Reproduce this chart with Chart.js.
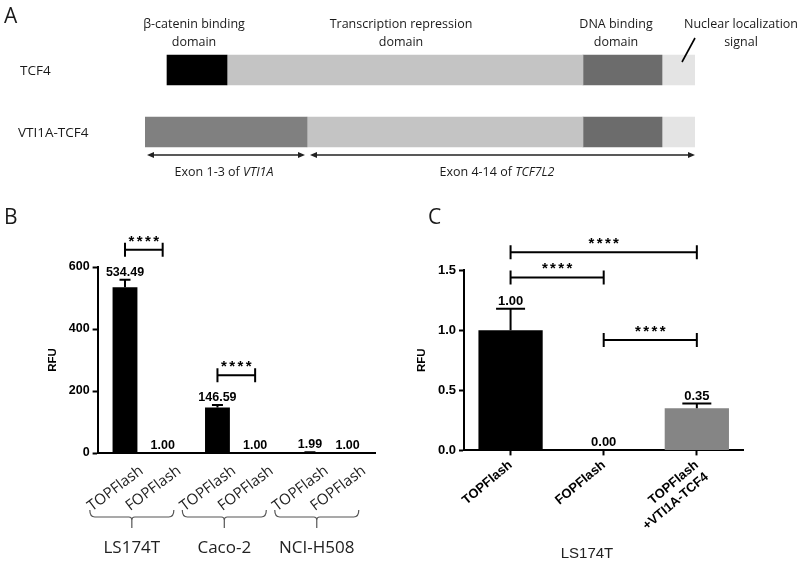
<!DOCTYPE html>
<html>
<head>
<meta charset="utf-8">
<script src="https://cdn.jsdelivr.net/npm/chart.js@4.4.1/dist/chart.umd.min.js"></script>
<style>
  html, body { margin: 0; padding: 0; background: #fff; }
  #fig { position: relative; width: 800px; height: 563px; overflow: hidden; font-family: 'Open Sans', sans-serif; color: #1a1a1a; }
  #fig canvas { position: absolute; }
  .panel { position: absolute; font-size: 21px; line-height: 24px; }
  .lbl { position: absolute; white-space: nowrap; font-size: 12.5px; line-height: 18px; text-align: center; transform: translateX(-50%); }
  .row { position: absolute; white-space: nowrap; font-size: 13.5px; line-height: 18px; }
  .lbl i { font-style: italic; }
</style>
</head>
<body>
<div id="fig">
  <canvas id="chartA" width="800" height="190" style="left:0;top:0"></canvas>
  <canvas id="chartB" width="400" height="383" style="left:0;top:180px"></canvas>
  <canvas id="chartC" width="400" height="383" style="left:400px;top:180px"></canvas>

  <div class="panel" style="left:4px;top:3px">A</div>
  <div class="panel" style="left:4px;top:204px">B</div>
  <div class="panel" style="left:428px;top:204px">C</div>

  <div class="lbl" style="left:194px;top:15px">β-catenin binding<br>domain</div>
  <div class="lbl" style="left:401px;top:15px">Transcription repression<br>domain</div>
  <div class="lbl" style="left:616px;top:15px">DNA binding<br>domain</div>
  <div class="lbl" style="left:741px;top:15px">Nuclear localization<br>signal</div>

  <div class="row" style="left:20px;top:61px">TCF4</div>
  <div class="row" style="left:18px;top:123px">VTI1A-TCF4</div>

  <div class="lbl" style="left:224px;top:163px">Exon 1-3 of <i>VTI1A</i></div>
  <div class="lbl" style="left:497px;top:163px">Exon 4-14 of <i>TCF7L2</i></div>

  <div style="position:absolute;left:587px;top:544px;transform:translateX(-50%);font-family:'Liberation Sans',Arial,sans-serif;font-size:15px;line-height:18px;color:#222">LS174T</div>
</div>

<script>
// panel A: domain boundaries along the protein (same units for both rows)
const aRows = ['TCF4', 'VTI1A-TCF4'];
const tcf4Bounds = [22, 82, 438, 517, 550];
const fusionBounds = [0, 162, 438, 517, 550];
const tcf4Colors = ['#000000', '#c4c4c4', '#6c6c6c', '#e4e4e4'];
const fusionColors = ['#808080', '#c4c4c4', '#6c6c6c', '#e4e4e4'];
const exonSpans = [[2, 160], [165, 550]];

// panel B
const bGroups = ['LS174T', 'Caco-2', 'NCI-H508'];
const bSeries = ['TOPFlash', 'FOPFlash'];
const bTop = [534.49, 146.59, 1.99];
const bFop = [1.00, 1.00, 1.00];
const bTopErr = [24, 8, 0.5];
const bFopErr = [0, 0, 0];
const bTicks = [0, 200, 400, 600];
const bBrackets = [[0, 656], [1, 251]]; // group, RFU level

// panel C
const cLabels = [['TOPFlash'], ['FOPFlash'], ['TOPFlash', '+VTI1A-TCF4']];
const cValues = [1.00, 0.00, 0.35];
const cErr = [0.18, 0, 0.04];
const cColors = ['#000000', '#000000', '#858585'];
const cTicks = [0, 0.5, 1.0, 1.5];
const cBrackets = [[0, 2, 1.65], [0, 1, 1.44], [1, 2, 0.92]]; // from, to, RFU level

Chart.defaults.font.family = "'Liberation Sans', Arial, sans-serif";
Chart.defaults.animation = false;

const axisFont = size => ({ family: "'Liberation Sans', Arial, sans-serif", weight: 'bold', size: size });

function drawStars(ctx, cx, cy) {
    ctx.save();
    ctx.fillStyle = '#000';
    ctx.font = "bold 15px 'Liberation Sans', Arial";
    ctx.textAlign = 'center';
    ctx.textBaseline = 'alphabetic';
    for (let k = 0; k < 4; k++) {
        ctx.fillText('*', cx + (k - 1.5) * 8.2, cy + 9);
    }
    ctx.restore();
}

function drawBracket(ctx, x1, x2, y) {
    ctx.save();
    ctx.strokeStyle = '#000';
    ctx.lineWidth = 2;
    ctx.beginPath();
    ctx.moveTo(x1, y); ctx.lineTo(x2, y);
    ctx.moveTo(x1, y - 7); ctx.lineTo(x1, y + 7);
    ctx.moveTo(x2, y - 7); ctx.lineTo(x2, y + 7);
    ctx.stroke();
    ctx.restore();
    drawStars(ctx, (x1 + x2) / 2, y - 13);
}

// error bar (upper only) + value label above it
function drawErrAndValue(ctx, yScale, x, value, err, cap, fontSize) {
    const yv = yScale.getPixelForValue(value);
    const ye = yScale.getPixelForValue(value + err);
    if (err > 0) {
        ctx.save();
        ctx.strokeStyle = '#000';
        ctx.lineWidth = 2;
        ctx.beginPath();
        ctx.moveTo(x, yv); ctx.lineTo(x, ye);
        ctx.moveTo(x - cap / 2, ye); ctx.lineTo(x + cap / 2, ye);
        ctx.stroke();
        ctx.restore();
    }
    ctx.save();
    ctx.fillStyle = '#000';
    ctx.font = "bold " + fontSize + "px 'Liberation Sans', Arial";
    ctx.textAlign = 'center';
    ctx.textBaseline = 'alphabetic';
    ctx.fillText(value.toFixed(2), x, Math.min(yv, ye) - 4);
    ctx.restore();
}

// ---------- panel A ----------
const aExtras = {
    id: 'aExtras',
    afterDatasetsDraw(chart) {
        const ctx = chart.ctx, x = chart.scales.x, area = chart.chartArea;
        const y = area.bottom - 8;
        ctx.save();
        ctx.strokeStyle = '#222';
        ctx.fillStyle = '#222';
        ctx.lineWidth = 1.3;
        exonSpans.forEach(([s, e]) => {
            const x1 = x.getPixelForValue(s), x2 = x.getPixelForValue(e);
            ctx.beginPath(); ctx.moveTo(x1 + 4, y); ctx.lineTo(x2 - 4, y); ctx.stroke();
            ctx.beginPath(); ctx.moveTo(x1, y); ctx.lineTo(x1 + 7, y - 3); ctx.lineTo(x1 + 7, y + 3); ctx.closePath(); ctx.fill();
            ctx.beginPath(); ctx.moveTo(x2, y); ctx.lineTo(x2 - 7, y - 3); ctx.lineTo(x2 - 7, y + 3); ctx.closePath(); ctx.fill();
        });
        // leader to the nuclear localization signal
        const last = tcf4Bounds[tcf4Bounds.length - 1];
        ctx.strokeStyle = '#000';
        ctx.lineWidth = 1.6;
        ctx.beginPath();
        ctx.moveTo(x.getPixelForValue(last), area.top - 1);
        ctx.lineTo(x.getPixelForValue(last - 13), area.top + 23);
        ctx.stroke();
        ctx.restore();
    }
};

new Chart(document.getElementById('chartA'), {
    type: 'bar',
    data: {
        labels: aRows,
        datasets: tcf4Colors.map((c, i) => ({
            data: [[tcf4Bounds[i], tcf4Bounds[i + 1]], [fusionBounds[i], fusionBounds[i + 1]]],
            backgroundColor: [tcf4Colors[i], fusionColors[i]],
            barThickness: 30,
            grouped: false
        }))
    },
    options: {
        indexAxis: 'y',
        responsive: false,
        events: [],
        layout: { padding: { left: 145, right: 105, top: 39, bottom: 27 } },
        plugins: { legend: { display: false }, tooltip: { enabled: false } },
        scales: {
            x: { type: 'linear', min: 0, max: 550, display: false },
            y: { display: false }
        }
    },
    plugins: [aExtras]
});

// ---------- panel B ----------
const bExtras = {
    id: 'bExtras',
    afterDatasetsDraw(chart) {
        const ctx = chart.ctx, yS = chart.scales.y, area = chart.chartArea;
        const metas = [chart.getDatasetMeta(0), chart.getDatasetMeta(1)];
        const errs = [bTopErr, bFopErr];
        const vals = [bTop, bFop];
        metas.forEach((m, di) => {
            m.data.forEach((bar, j) => {
                drawErrAndValue(ctx, yS, bar.x, vals[di][j], errs[di][j], 11, 12.5);
                // rotated bar label
                ctx.save();
                ctx.translate(bar.x + 12, area.bottom + 10);
                ctx.rotate(-37 * Math.PI / 180);
                ctx.font = "15px 'Open Sans'";
                ctx.fillStyle = '#222';
                ctx.textAlign = 'right';
                ctx.textBaseline = 'top';
                ctx.fillText(bSeries[di], 0, 0);
                ctx.restore();
            });
        });
        // brackets
        bBrackets.forEach(([g, level]) => {
            drawBracket(ctx, metas[0].data[g].x, metas[1].data[g].x, yS.getPixelForValue(level));
        });
        // braces + cell line names
        bGroups.forEach((name, j) => {
            const cx = (metas[0].data[j].x + metas[1].data[j].x) / 2 - 12;
            const l = cx - 42, r = cx + 42;
            const t = area.bottom + 57, mid = area.bottom + 64, b = area.bottom + 75;
            ctx.save();
            ctx.strokeStyle = '#555';
            ctx.lineWidth = 1.2;
            ctx.beginPath();
            ctx.moveTo(l, t);
            ctx.quadraticCurveTo(l, mid, l + 5, mid);
            ctx.lineTo(cx - 3, mid);
            ctx.quadraticCurveTo(cx, mid, cx, mid + 3);
            ctx.lineTo(cx, b);
            ctx.moveTo(cx, mid + 3);
            ctx.quadraticCurveTo(cx, mid, cx + 3, mid);
            ctx.lineTo(r - 5, mid);
            ctx.quadraticCurveTo(r, mid, r, t);
            ctx.stroke();
            ctx.font = "17px 'Open Sans'";
            ctx.fillStyle = '#222';
            ctx.textAlign = 'center';
            ctx.textBaseline = 'middle';
            ctx.fillText(name, cx, area.bottom + 95);
            ctx.restore();
        });
    }
};

new Chart(document.getElementById('chartB'), {
    type: 'bar',
    data: {
        labels: bGroups,
        datasets: [
            { label: bSeries[0], data: bTop, backgroundColor: '#000' },
            { label: bSeries[1], data: bFop, backgroundColor: '#000' }
        ]
    },
    options: {
        responsive: false,
        events: [],
        layout: { padding: { left: 46, right: 25, top: 87, bottom: 0 } },
        datasets: { bar: { categoryPercentage: 0.815, barPercentage: 0.66 } },
        plugins: { legend: { display: false }, tooltip: { enabled: false } },
        scales: {
            x: {
                grid: { display: false },
                border: { color: '#000', width: 2 },
                ticks: { display: false },
                afterFit: s => { s.height = 110; }
            },
            y: {
                min: 0, max: 600,
                afterBuildTicks: s => { s.ticks = bTicks.map(v => ({ value: v })); },
                afterFit: s => { s.width = 51.6; },
                grid: { drawOnChartArea: false, tickLength: 5, tickColor: '#000', tickWidth: 2 },
                border: { color: '#000', width: 2 },
                ticks: { font: axisFont(12.5), color: '#000', padding: 3 },
                title: { display: true, text: 'RFU', font: axisFont(11.5), color: '#000', padding: { top: 0, bottom: 0 } }
            }
        }
    },
    plugins: [bExtras]
});

// ---------- panel C ----------
const cExtras = {
    id: 'cExtras',
    afterDatasetsDraw(chart) {
        const ctx = chart.ctx, yS = chart.scales.y;
        const bars = chart.getDatasetMeta(0).data;
        bars.forEach((bar, j) => {
            drawErrAndValue(ctx, yS, bar.x, cValues[j], cErr[j], 29, 13);
        });
        cBrackets.forEach(([a, b, level]) => {
            drawBracket(ctx, bars[a].x, bars[b].x, yS.getPixelForValue(level));
        });
    }
};

new Chart(document.getElementById('chartC'), {
    type: 'bar',
    data: {
        labels: cLabels,
        datasets: [{ data: cValues, backgroundColor: cColors, barPercentage: 0.69, categoryPercentage: 1 }]
    },
    options: {
        responsive: false,
        events: [],
        layout: { padding: { left: 15, right: 56.6, top: 90.2, bottom: 0 } },
        plugins: { legend: { display: false }, tooltip: { enabled: false } },
        scales: {
            x: {
                grid: { display: true, drawOnChartArea: false, offset: false, tickLength: 5, tickColor: '#000', tickWidth: 2 },
                border: { color: '#000', width: 2 },
                ticks: { font: axisFont(13), color: '#000', minRotation: 40, maxRotation: 40, padding: 2 },
                afterFit: s => { s.height = 112.6; }
            },
            y: {
                min: 0, max: 1.5,
                afterBuildTicks: s => { s.ticks = cTicks.map(v => ({ value: v })); },
                afterFit: s => { s.width = 49; },
                grid: { drawOnChartArea: false, tickLength: 5, tickColor: '#000', tickWidth: 2 },
                border: { color: '#000', width: 2 },
                ticks: { font: axisFont(13), color: '#000', padding: 3, callback: v => v.toFixed(1) },
                title: { display: true, text: 'RFU', font: axisFont(11.5), color: '#000', padding: { top: 0, bottom: 0 } }
            }
        }
    },
    plugins: [cExtras]
});
</script>
</body>
</html>
